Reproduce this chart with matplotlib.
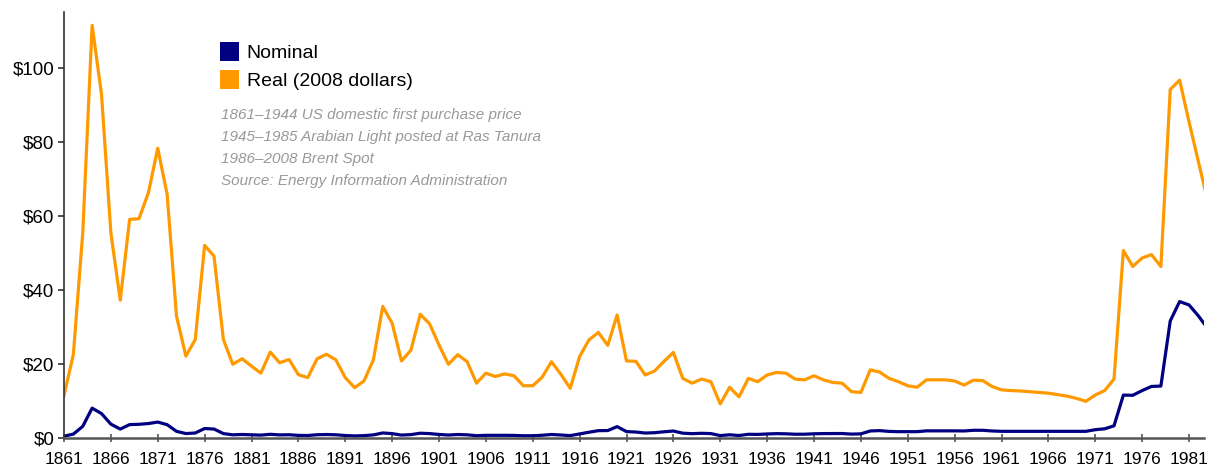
import matplotlib.pyplot as plt
from matplotlib.patches import Patch

# Oil price per barrel
years = list(range(1861, 1984))

real = [11.5, 22.6, 55.4, 111.4, 92.8, 55.4, 37.2, 59.0, 59.2, 66.2,
        78.2, 65.8, 32.9, 22.1, 26.6, 52.0, 49.1, 26.6, 19.9, 21.4,
        19.4, 17.5, 23.2, 20.3, 21.2, 17.1, 16.3, 21.4, 22.6, 21.1,
        16.3, 13.6, 15.4, 21.1, 35.5, 31.0, 20.8, 23.7, 33.4, 30.8,
        25.1, 19.9, 22.5, 20.6, 14.8, 17.5, 16.6, 17.3, 16.8, 14.1,
        14.1, 16.4, 20.6, 17.2, 13.4, 22.0, 26.5, 28.5, 25.0, 33.2,
        20.8, 20.7, 17.0, 18.1, 20.7, 23.1, 16.1, 14.8, 15.9, 15.2,
        9.2, 13.7, 11.1, 16.1, 15.2, 17.0, 17.7, 17.5, 15.9, 15.7,
        16.8, 15.7, 15.0, 14.8, 12.5, 12.3, 18.4, 17.8, 16.1, 15.2,
        14.1, 13.7, 15.7, 15.7, 15.7, 15.4, 14.3, 15.6, 15.5, 13.9,
        13.0, 12.8, 12.7, 12.5, 12.3, 12.1, 11.7, 11.3, 10.7, 9.9,
        11.6, 12.8, 15.9, 50.6, 46.3, 48.6, 49.5, 46.3, 94.1, 96.6,
        85.4, 74.6, 64.0]

nominal = [0.49, 1.05, 3.15, 8.06, 6.59, 3.74, 2.41, 3.62, 3.70, 3.90,
           4.30, 3.60, 1.80, 1.20, 1.35, 2.56, 2.42, 1.19, 0.86, 0.95,
           0.86, 0.78, 1.00, 0.84, 0.88, 0.71, 0.67, 0.88, 0.94, 0.87,
           0.67, 0.56, 0.64, 0.84, 1.36, 1.18, 0.79, 0.91, 1.29, 1.19,
           0.96, 0.80, 0.94, 0.86, 0.62, 0.73, 0.72, 0.72, 0.70, 0.61,
           0.61, 0.74, 0.95, 0.81, 0.64, 1.10, 1.56, 1.98, 2.01, 3.07,
           1.73, 1.61, 1.34, 1.43, 1.68, 1.88, 1.30, 1.17, 1.27, 1.19,
           0.65, 0.87, 0.67, 1.00, 0.97, 1.09, 1.18, 1.13, 1.02, 1.02,
           1.14, 1.19, 1.20, 1.21, 1.05, 1.12, 1.90, 1.99, 1.78, 1.71,
           1.71, 1.71, 1.93, 1.93, 1.93, 1.93, 1.90, 2.08, 2.08, 1.90,
           1.80, 1.80, 1.80, 1.80, 1.80, 1.80, 1.80, 1.80, 1.80, 1.80,
           2.24, 2.48, 3.29, 11.58, 11.53, 12.80, 13.92, 14.02, 31.61, 36.83,
           35.93, 32.97, 29.55]

notes = ["1861\u20131944 US domestic first purchase price",
         "1945\u20131985 Arabian Light posted at Ras Tanura",
         "1986\u20132008 Brent Spot",
         "Source: Energy Information Administration"]

plt.rcParams["font.family"] = ["Liberation Sans", "DejaVu Sans"]

navy = "#000080"
orange = "#FF9900"

fig = plt.figure(figsize=(12.12, 4.72), dpi=100)
ax = fig.add_axes([64 / 1212, 1 - 438 / 472, (1204 - 64) / 1212, (438 - 12) / 472])

ax.plot(years, real, color=orange, lw=2.3)
ax.plot(years, nominal, color=navy, lw=2.3)

ax.set_xlim(1861, 1982.6)
ax.set_ylim(0, 115)
ax.set_xticks(range(1861, 1982, 5))
ax.set_yticks(range(0, 101, 20))
ax.set_yticklabels(["$%d" % v for v in range(0, 101, 20)])

for s in ["top", "right"]:
    ax.spines[s].set_visible(False)
ax.spines["left"].set_color("#333333")
ax.spines["left"].set_linewidth(1.2)
ax.spines["bottom"].set_color("#555555")
ax.spines["bottom"].set_linewidth(1.8)

ax.tick_params(axis="x", direction="inout", length=6, width=1.2, color="#555555",
               labelsize=12.5, pad=7)
ax.tick_params(axis="y", direction="out", length=4, width=1.2, color="#333333",
               labelsize=13.5, pad=3)

handles = [Patch(facecolor=navy, edgecolor="none", label="Nominal"),
           Patch(facecolor=orange, edgecolor="none", label="Real (2008 dollars)")]
fig.legend(handles=handles, loc="upper left", bbox_to_anchor=(220 / 1212, 1 - 42 / 472),
           frameon=False, fontsize=14, handlelength=0.98, handleheight=1.13,
           handletextpad=0.4, labelspacing=0.39, borderpad=0, borderaxespad=0)

for i, t in enumerate(notes):
    fig.text(221 / 1212, 1 - (115 + i * 22) / 472, t, fontsize=11, style="italic",
             color="#999999", va="center", ha="left")

fig.savefig("out.png", dpi=100)
